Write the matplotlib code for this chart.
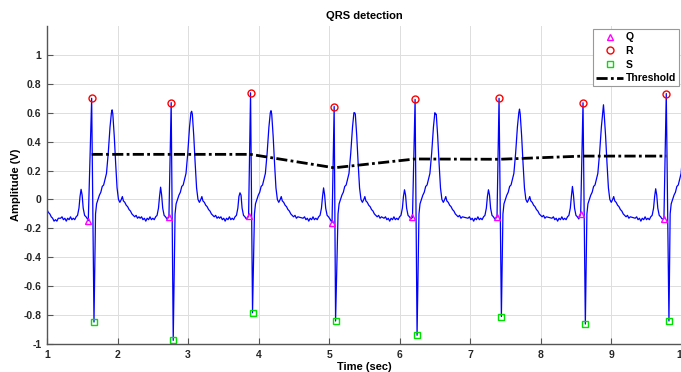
import matplotlib
matplotlib.use('Agg')
import matplotlib.pyplot as plt

# detected points (time in sec, amplitude in V)
r_time = [1.633, 2.760, 3.885, 5.070, 6.217, 7.407, 8.597, 9.777]
r_amp = [0.700, 0.670, 0.738, 0.643, 0.692, 0.700, 0.669, 0.733]
q_time = [1.585, 2.728, 3.857, 5.040, 6.180, 7.378, 8.564, 9.744]
q_amp = [-0.147, -0.122, -0.117, -0.160, -0.124, -0.122, -0.099, -0.133]
s_time = [1.666, 2.789, 3.913, 5.090, 6.245, 7.440, 8.630, 9.815]
s_amp = [-0.848, -0.975, -0.784, -0.841, -0.940, -0.810, -0.862, -0.841]
p_amp = [0.070, 0.085, 0.046, 0.080, 0.067, 0.067, 0.090, 0.074]
t_amp = [0.620, 0.610, 0.614, 0.600, 0.590, 0.625, 0.655, 0.600]
threshold = [0.312, 0.312, 0.312, 0.219, 0.280, 0.278, 0.300, 0.300]

lead_t = [1.00, 1.02, 1.04, 1.06, 1.08, 1.10, 1.12, 1.14, 1.16]
lead_v = [-0.07, -0.09, -0.10, -0.12, -0.13, -0.15, -0.14, -0.15, -0.13]
pre_off = [-0.44, -0.42, -0.40, -0.38, -0.36, -0.34, -0.32, -0.30, -0.28, -0.26,
           -0.24, -0.22, -0.20, -0.18, -0.165, -0.15, -0.135, -0.12, -0.10,
           -0.08, -0.06]
pre_val = [-0.13, -0.12, -0.14, -0.13, -0.15, -0.13, -0.14, -0.12, -0.14, -0.13,
           -0.14, -0.12, -0.11, -0.06, 0.02, 'P', 0.03, -0.06, -0.11,
           -0.12, -0.135]
post_off = [0.055, 0.07, 0.09, 0.11, 0.13, 0.15, 0.17, 0.19, 0.21, 0.235, 0.26,
            0.28, 0.29, 0.30, 0.32, 0.34, 0.36, 0.38, 0.40, 0.42, 0.435, 0.45,
            0.47, 0.49, 0.51, 0.53, 0.55, 0.57, 0.59, 0.61, 0.63, 0.65, 0.67]
post_val = [-0.10, -0.03, 0.00, 0.03, 0.05, 0.09, 0.10, 0.14, 0.18, 0.32, 0.50,
            0.60, 'T', 0.59, 0.44, 0.25, 0.08, 0.00, -0.02, 0.00, 0.02, -0.01,
            -0.02, -0.04, -0.05, -0.07, -0.08, -0.10, -0.11, -0.12, -0.11, -0.13,
            -0.12]

sig_t = list(lead_t)
sig_v = list(lead_v)
for i in range(len(r_time)):
    for o, v in zip(pre_off, pre_val):
        sig_t.append(r_time[i] + o)
        sig_v.append(p_amp[i] if v == 'P' else v)
    sig_t += [q_time[i], r_time[i], s_time[i]]
    sig_v += [q_amp[i], r_amp[i], s_amp[i]]
    for o, v in zip(post_off, post_val):
        sig_t.append(r_time[i] + o)
        sig_v.append(t_amp[i] if v == 'T' else v)

plt.rcParams['font.family'] = ['Liberation Sans', 'DejaVu Sans']
plt.rcParams['font.weight'] = 'bold'

fig = plt.figure(figsize=(6.81, 3.72), dpi=100)
ax = fig.add_axes([47 / 681, 28 / 372, 635 / 681, 318 / 372])

ax.plot(sig_t, sig_v, color='#0000FF', linewidth=0.9)
ax.plot(q_time, q_amp, '^', mfc='none', mec='#FF00FF', ms=5, mew=1, label='Q')
ax.plot(r_time, r_amp, 'o', mfc='none', mec='#FF0000', ms=5, mew=1, label='R')
ax.plot(s_time, s_amp, 's', mfc='none', mec='#00E000', ms=4.5, mew=1, label='S')
ax.plot(r_time, threshold, color='black', linestyle=(0, (4, 1.2, 1, 1.2)),
        linewidth=2, label='Threshold')

ax.set_xlim(1, 10)
ax.set_ylim(-1, 1.2)
ax.set_xticks(range(1, 11))
ax.set_yticks([-1, -0.8, -0.6, -0.4, -0.2, 0, 0.2, 0.4, 0.6, 0.8, 1])
ax.set_yticklabels(['-1', '-0.8', '-0.6', '-0.4', '-0.2', '0', '0.2', '0.4',
                    '0.6', '0.8', '1'])
ax.grid(True, color='#dddddd', linewidth=0.7)
ax.set_axisbelow(True)

for side in ['top', 'right']:
    ax.spines[side].set_visible(False)
for side in ['left', 'bottom']:
    ax.spines[side].set_color('#555555')
    ax.spines[side].set_linewidth(1.0)
ax.tick_params(direction='in', length=4, width=0.8, color='#555555',
               labelsize=7.5, labelcolor='#262626', pad=4)

ax.set_title('QRS detection', fontsize=8, fontweight='bold', pad=5)
ax.set_xlabel('Time (sec)', fontsize=8, fontweight='bold', labelpad=2)
ax.set_ylabel('Amplitude (V)', fontsize=8, fontweight='bold', labelpad=2)

leg = ax.legend(loc='upper right', fontsize=7.5, handlelength=2.6,
                handletextpad=0.2, borderaxespad=0.3, labelspacing=0.35,
                fancybox=False, framealpha=1, borderpad=0.3)
leg.get_frame().set_edgecolor('#999999')
leg.get_frame().set_linewidth(0.8)

fig.savefig('out.png', dpi=100)
